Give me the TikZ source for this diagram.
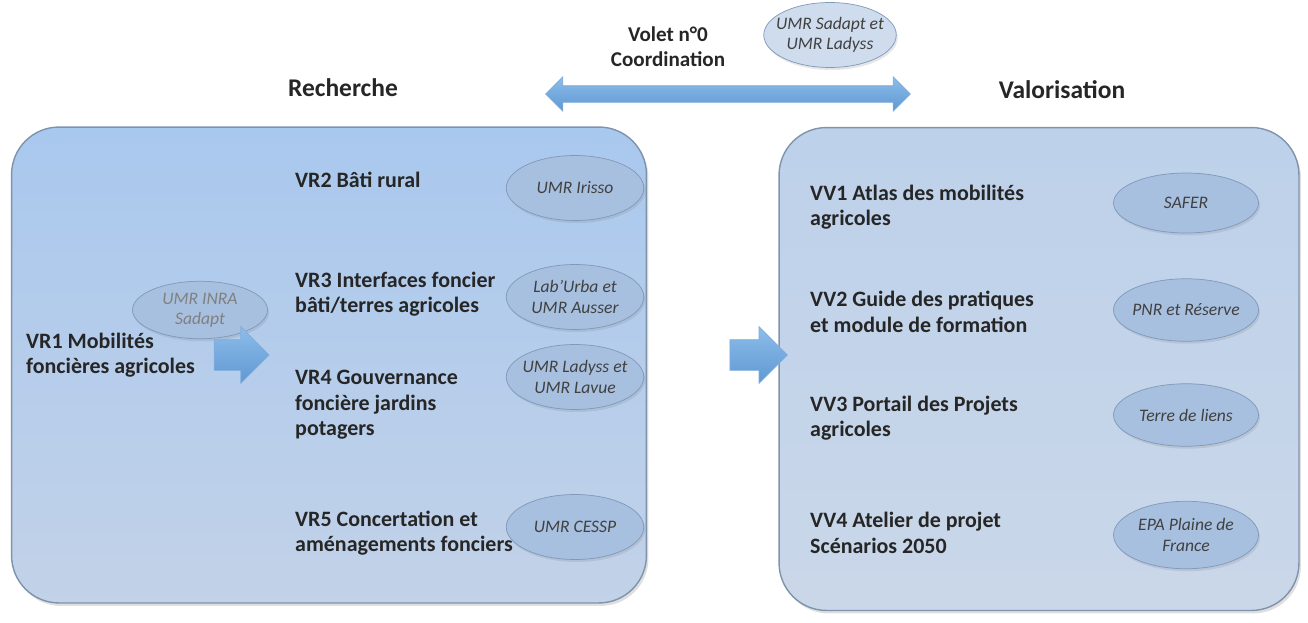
\documentclass[tikz,border=0pt]{standalone}
\usepackage{fontspec}
\setmainfont{Carlito}
\usetikzlibrary{positioning,shapes.geometric,shapes.arrows,shadows}
\definecolor{boxline}{HTML}{7F93AD}
\definecolor{boxtop}{HTML}{A9C8EE}
\definecolor{boxbot}{HTML}{C2D2E8}
\definecolor{boxtopb}{HTML}{BDD1EA}
\definecolor{boxbotb}{HTML}{CAD7E9}
\definecolor{elfill}{HTML}{A8C0DF}
\definecolor{elline}{HTML}{8098BA}
\definecolor{arrtop}{HTML}{8DBDEA}
\definecolor{arrbot}{HTML}{5F98D3}
\tikzset{panel/.style={draw=boxline, line width=0.8pt, rounded corners=0.95cm, drop shadow={opacity=0.25, shadow xshift=0.04cm, shadow yshift=-0.06cm}},
  item/.style={anchor=west, align=left, font=\bfseries\fontsize{12.5}{14.6}\selectfont, text=black!85},
  title/.style={font=\bfseries\fontsize{14.5}{17}\selectfont, text=black!85},
  partner/.style={ellipse, draw=elline, fill=elfill, minimum width=2.75cm, minimum height=1.3cm, inner xsep=-5pt, inner ysep=0pt, align=center, font=\itshape\fontsize{10}{11.6}\selectfont, text=black!75, drop shadow={opacity=0.2, shadow xshift=0.03cm, shadow yshift=-0.05cm}},
  flow/.style={single arrow, draw=arrbot!80, top color=arrtop, bottom color=arrbot, inner sep=0.3cm, single arrow head extend=0.26cm, minimum height=1.1cm}
}

\begin{document}
\begin{tikzpicture}[x=0.02cm, y=-0.02cm]
\useasboundingbox (0,0) rectangle (1308,622);
% panels
\node[panel, top color=boxtop, bottom color=boxbot, minimum width=12.7cm, minimum height=9.52cm] (rech) at (329,365) {};
\node[panel, top color=boxtopb, bottom color=boxbotb, minimum width=10.4cm, minimum height=9.66cm] (valo) at (1039,369) {};
\node[title] (trech) at (343,88) {Recherche};
\node[title] (tvalo) at (1062,90) {Valorisation};
% coordination
\node[align=center, font=\bfseries\fontsize{12}{14.2}\selectfont, text=black!85] (volet) at (668,47) {Volet n°0\\Coordination};
\node[double arrow, draw=arrbot!80, top color=arrtop, bottom color=arrbot, inner sep=0.16cm, double arrow head extend=0.18cm, minimum height=7.3cm] (coord) at (728,94) {};
\node[partner, fill=elfill!55, minimum width=2.65cm, minimum height=1.3cm] (sadapt) at (830,35) {UMR Sadapt et\\UMR Ladyss};
% recherche
\node[item] (vr1) at (20,355) {VR1 Mobilités\\foncières agricoles};
\node[partner, text=black!50, minimum width=2.7cm, minimum height=1.15cm] (inra) at (200,310) {UMR INRA\\Sadapt};
\node[flow] (a1) at (234,355) {};
\node[item] (vr2) at (289,180) {VR2 Bâti rural};
\node[item] (vr3) at (289,294) {VR3 Interfaces foncier\\bâti/terres agricoles};
\node[item] (vr4) at (289,405) {VR4 Gouvernance\\foncière jardins\\potagers};
\node[item] (vr5) at (289,533) {VR5 Concertation et\\aménagements fonciers};
\node[partner] (irisso) at (575,188) {UMR Irisso};
\node[partner] (urba) at (575,297) {Lab’Urba et\\UMR Ausser};
\node[partner] (lavue) at (575,377) {UMR Ladyss et\\UMR Lavue};
\node[partner] (cessp) at (575,527) {UMR CESSP};
% valorisation
\node[flow, minimum height=1.15cm] (a2) at (751,355) {};
\node[item] (vv1) at (804,207) {VV1 Atlas des mobilités\\agricoles};
\node[item] (vv2) at (804,312) {VV2 Guide des pratiques\\et module de formation};
\node[item] (vv3) at (804,418) {VV3 Portail des Projets\\agricoles};
\node[item] (vv4) at (804,533) {VV4 Atelier de projet\\Scénarios 2050};
\node[partner, minimum width=2.9cm, minimum height=1.2cm] (safer) at (1186,203) {SAFER};
\node[partner, minimum width=2.9cm, minimum height=1.25cm] (pnr) at (1186,310) {PNR et Réserve};
\node[partner, minimum width=2.9cm, minimum height=1.25cm] (tdl) at (1186,415) {Terre de liens};
\node[partner, minimum width=2.9cm, minimum height=1.35cm] (epa) at (1186,535) {EPA Plaine de\\France};
\end{tikzpicture}
\end{document}
